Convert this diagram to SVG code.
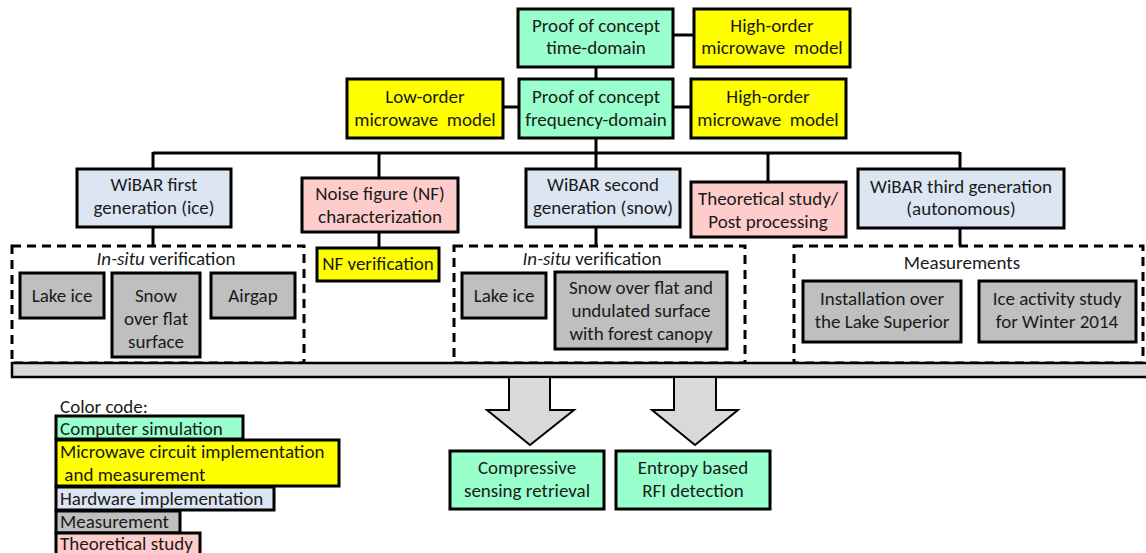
<svg xmlns="http://www.w3.org/2000/svg" width="1146" height="553" viewBox="0 0 1146 553">
<style>
text{font-family:Carlito,"Liberation Sans",Arial,sans-serif;font-size:19px;fill:#1a1a1a;text-anchor:middle}
.lg{text-anchor:start}
.n{stroke:#000;stroke-width:3}
.g{fill:#99ffcc}.y{fill:#ffff00}.b{fill:#dce6f2}.s{fill:#bfbfbf}.p{fill:#ffcccc}
.c line{stroke:#000;stroke-width:3}
.d{fill:none;stroke:#000;stroke-width:3;stroke-dasharray:9,6}
.ar{fill:#d9d9d9;stroke:#000;stroke-width:2}
</style>
<g class="c" id="connectors">
<line x1="673" y1="35" x2="694" y2="35"/>
<line x1="596" y1="67" x2="596" y2="79"/>
<line x1="503" y1="107" x2="519" y2="107"/>
<line x1="673" y1="107" x2="691" y2="107"/>
<line x1="596" y1="138" x2="596" y2="153"/>
<line x1="153" y1="153" x2="960" y2="153"/>
<line x1="153" y1="152" x2="153" y2="169"/>
<line x1="379" y1="153" x2="379" y2="178"/>
<line x1="596" y1="153" x2="596" y2="169"/>
<line x1="768" y1="153" x2="768" y2="182"/>
<line x1="960" y1="152" x2="960" y2="169"/>
<line x1="153" y1="227" x2="153" y2="246"/>
<line x1="379" y1="232" x2="379" y2="248"/>
<line x1="596" y1="227" x2="596" y2="246"/>
<line x1="960" y1="228" x2="960" y2="246"/>
</g>
<g id="group1"><rect class="d" x="12" y="246" width="292" height="117"/><text x="166" y="265"><tspan font-style="italic">In-situ</tspan> verification</text></g>
<g id="group2"><rect class="d" x="454" y="246" width="291" height="117"/><text x="592" y="265"><tspan font-style="italic">In-situ</tspan> verification</text></g>
<g id="group3"><rect class="d" x="794" y="246" width="349" height="117"/><text x="962" y="269">Measurements</text></g>
<g id="bar"><rect x="12" y="363" width="1146" height="14" fill="#d9d9d9" stroke="#000" stroke-width="2.5"/></g>
<g id="n1"><rect class="n g" x="518" y="9" width="155" height="58"/><text x="596" y="32">Proof of concept</text><text x="596" y="54">time-domain</text></g>
<g id="n2"><rect class="n y" x="694" y="9" width="156" height="58"/><text x="772" y="32">High-order</text><text x="772" y="54" xml:space="preserve">microwave  model</text></g>
<g id="n3"><rect class="n y" x="347" y="79" width="156" height="59"/><text x="425" y="103">Low-order</text><text x="425" y="126" xml:space="preserve">microwave  model</text></g>
<g id="n4"><rect class="n g" x="519" y="79" width="154" height="59"/><text x="596" y="103">Proof of concept</text><text x="596" y="126">frequency-domain</text></g>
<g id="n5"><rect class="n y" x="691" y="79" width="155" height="59"/><text x="768" y="103">High-order</text><text x="768" y="126" xml:space="preserve">microwave  model</text></g>
<g id="n6"><rect class="n b" x="77" y="169" width="154" height="58"/><text x="154" y="191">WiBAR first</text><text x="154" y="214">generation (ice)</text></g>
<g id="n7"><rect class="n p" x="302" y="178" width="156" height="54"/><text x="380" y="200">Noise figure (NF)</text><text x="380" y="223">characterization</text></g>
<g id="n8"><rect class="n b" x="526" y="169" width="154" height="58"/><text x="603" y="191">WiBAR second</text><text x="603" y="214">generation (snow)</text></g>
<g id="n9"><rect class="n p" x="691" y="182" width="155" height="55"/><text x="768" y="205">Theoretical study/</text><text x="768" y="228">Post processing</text></g>
<g id="n10"><rect class="n b" x="858" y="169" width="206" height="59"/><text x="961" y="193">WiBAR third generation</text><text x="961" y="215">(autonomous)</text></g>
<g id="n11"><rect class="n y" x="317" y="248" width="122" height="33"/><text x="378" y="270">NF verification</text></g>
<g id="n12"><rect class="n s" x="20" y="273" width="84" height="45"/><text x="62" y="302">Lake ice</text></g>
<g id="n13"><rect class="n s" x="112" y="273" width="88" height="84"/><text x="156" y="302">Snow</text><text x="156" y="325">over flat</text><text x="156" y="348">surface</text></g>
<g id="n14"><rect class="n s" x="211" y="273" width="84" height="45"/><text x="253" y="302">Airgap</text></g>
<g id="n15"><rect class="n s" x="462" y="273" width="84" height="45"/><text x="504" y="302">Lake ice</text></g>
<g id="n16"><rect class="n s" x="555" y="272" width="172" height="77"/><text x="641" y="294">Snow over flat and</text><text x="641" y="317">undulated surface</text><text x="641" y="340">with forest canopy</text></g>
<g id="n17"><rect class="n s" x="803" y="281" width="158" height="61"/><text x="882" y="305">Installation over</text><text x="882" y="328">the Lake Superior</text></g>
<g id="n18"><rect class="n s" x="979" y="281" width="157" height="61"/><text x="1057" y="305">Ice activity study</text><text x="1057" y="328">for Winter 2014</text></g>
<g id="arrows">
<polygon class="ar" points="509,377 550,377 550,410 574,410 530,445 487,410 509,410"/>
<polygon class="ar" points="674,377 716,377 716,410 738,410 695,445 652,410 674,410"/>
</g>
<g id="n19"><rect class="n g" x="450" y="451" width="154" height="58"/><text x="527" y="474">Compressive</text><text x="527" y="497">sensing retrieval</text></g>
<g id="n20"><rect class="n g" x="616" y="451" width="154" height="58"/><text x="693" y="474">Entropy based</text><text x="693" y="497">RFI detection</text></g>
<g id="legend">
<text class="lg" x="60" y="413">Color code:</text>
<rect class="n g" x="56" y="416" width="187" height="23" stroke-width="2.5"/><text class="lg" x="60" y="435">Computer simulation</text>
<rect class="n y" x="56" y="440" width="283" height="46" stroke-width="2.5"/><text class="lg" x="60" y="458">Microwave circuit implementation</text><text class="lg" x="60" y="481" xml:space="preserve"> and measurement</text>
<rect class="n b" x="56" y="487" width="218" height="23" stroke-width="2.5"/><text class="lg" x="60" y="505">Hardware implementation</text>
<rect class="n s" x="56" y="511" width="124" height="22" stroke-width="2.5"/><text class="lg" x="60" y="528">Measurement</text>
<rect class="n p" x="56" y="533" width="144" height="24" stroke-width="2.5"/><text class="lg" x="60" y="550">Theoretical study</text>
</g>
</svg>
